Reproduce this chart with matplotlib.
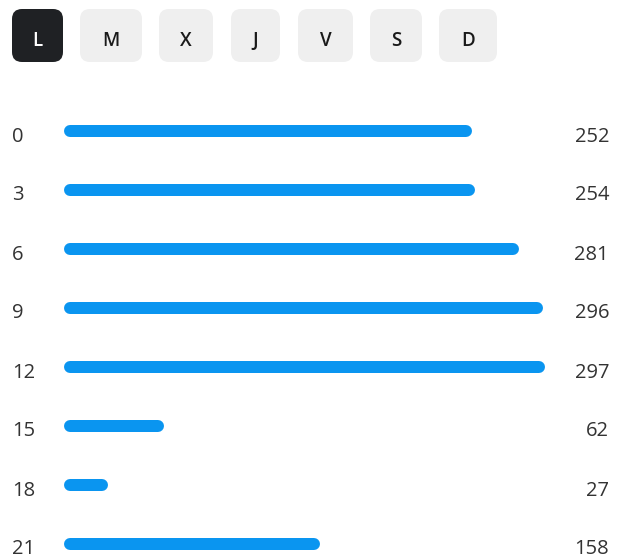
import numpy as np
import matplotlib.pyplot as plt
from matplotlib.patches import FancyBboxPatch
from matplotlib import transforms

plt.rcParams['font.family'] = ['Open Sans', 'DejaVu Sans']

days = ["L", "M", "X", "J", "V", "S", "D"]
selected_day = "L"
hours = ["0", "3", "6", "9", "12", "15", "18", "21"]
counts = [252, 254, 281, 296, 297, 62, 27, 158]

W, H = 617, 559
fig = plt.figure(figsize=(W / 100, H / 100), dpi=100)
fig.patch.set_facecolor("white")

# pixel overlay for the day buttons
top = fig.add_axes([0, 0, 1, 1])
top.set_xlim(0, W)
top.set_ylim(H, 0)
top.axis("off")

btn_x = [12, 80, 159, 231, 298, 370, 439]
btn_w = [51, 62, 54, 49, 55, 52, 58]
for d, x0, w in zip(days, btn_x, btn_w):
    sel = d == selected_day
    box = FancyBboxPatch((x0, 9), w, 53, boxstyle="round,pad=0,rounding_size=10",
                         fc="#1f2124" if sel else "#efefef", ec="none")
    top.add_patch(box)
    top.text(x0 + w / 2, 46.5, d, ha="center", va="baseline", fontsize=13.5,
             fontweight="semibold", color="white" if sel else "#1a1a1a")

# bars axes: x from 64px to 545px, rows every 59px starting at 131px
left_px, right_px = 64, 545
y0_px, step = 131, 59
ax = fig.add_axes([left_px / W, 0, (right_px - left_px) / W, (H - 102) / H])
ax.set_xlim(0, max(counts))
ax.set_ylim((H - y0_px) / step, (102 - y0_px) / step)
ax.axis("off")

fig.canvas.draw()
px_per_unit = ax.transData.transform((1, 0))[0] - ax.transData.transform((0, 0))[0]
bar_h = 12
r = bar_h / 2 / px_per_unit
lw = bar_h * 72 / 100

y = np.arange(len(hours))
for yi, v in zip(y, counts):
    ax.plot([r, v - r], [yi, yi], color="#0a95f0", lw=lw,
            solid_capstyle="round", clip_on=False)

tl = transforms.blended_transform_factory(fig.transFigure, ax.transData)
base = 10.5 / step
for yi, h, v in zip(y, hours, counts):
    ax.text(12 / W, yi + base, h, transform=tl, ha="left", va="baseline",
            fontsize=14.5, color="#333333")
    ax.text(609 / W, yi + base, str(v), transform=tl, ha="right", va="baseline",
            fontsize=14.5, color="#333333")

plt.savefig("out.png", dpi=100, facecolor="white")
